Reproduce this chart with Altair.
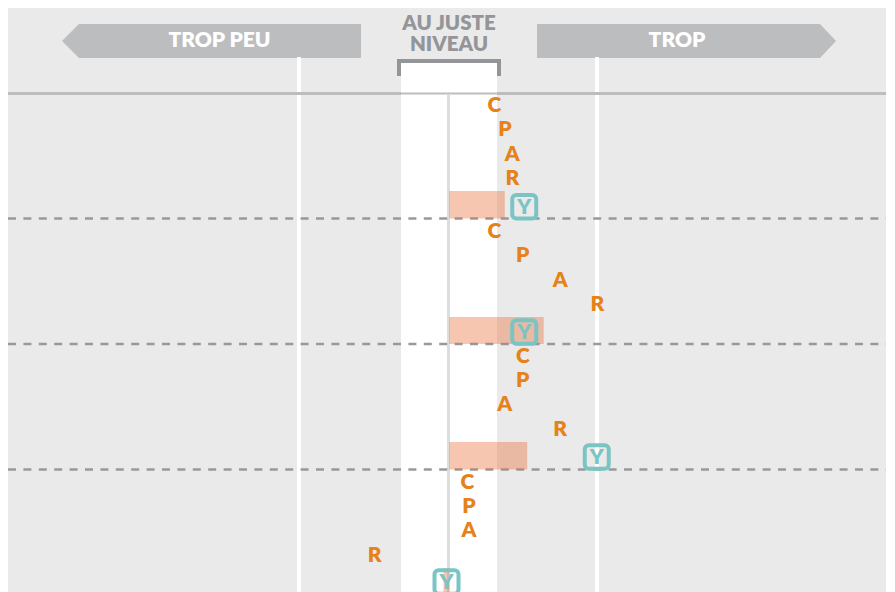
import altair as alt
import pandas as pd

letters = ["C", "P", "A", "R"] * 4
letter_vals = [0.31, 0.38, 0.43, 0.43,
               0.31, 0.50, 0.75, 1.00,
               0.50, 0.50, 0.38, 0.75,
               0.13, 0.14, 0.14, -0.49]
letter_rows = [0, 0.98, 1.98, 2.96,
               5.14, 6.12, 7.14, 8.12,
               10.24, 11.22, 12.2, 13.22,
               15.38, 16.36, 17.35, 18.37]
y_vals = [0.51, 0.51, 0.995, -0.01]
y_rows = [4.15, 9.27, 14.37, 19.47]
bar_vals = [0.38, 0.64, 0.53, -0.03]
bar_starts = [0.008, 0.008, 0.008, 0.008]
bar_tops = [3.51, 8.65, 13.76, 18.9]
bar_bots = [4.63, 9.76, 14.88, 20.5]
sep_rows = [4.63, 9.76, 14.88]


def X(px):
    return (px - 448) / 149.5


def Y(px):
    return (px - 105) / 24.5


W, H = 878, 590
xs = alt.Scale(domain=[X(8), X(8 + W)], range=[0, W], nice=False, zero=False)
ys = alt.Scale(domain=[Y(8), Y(8 + H)], range=[0, H], nice=False, zero=False)
xe = lambda f: alt.X(f, type="quantitative", scale=xs, axis=None, title=None)
ye = lambda f: alt.Y(f, type="quantitative", scale=ys, axis=None, title=None)

ARROW = "#BCBDBF"
GREY = "#939598"
ORANGE = "#E58219"
TEAL = "#7BC4C4"
FONT = "Lato"


def df(**k):
    return alt.Data(values=pd.DataFrame(k).to_dict("records"))


def rect(x0, x1, y0, y1, color, **kw):
    return alt.Chart(df(x=[X(x0)], x2=[X(x1)], y=[Y(y0)], y2=[Y(y1)])).mark_rect(color=color, **kw).encode(
        x=xe("x"), x2="x2", y=ye("y"), y2="y2")


def arrow(xs_px):
    tip, neck, end = xs_px
    return alt.Chart(df(x=[X(tip), X(neck), X(end)],
                        y=[Y(41), Y(24), Y(24)],
                        y2=[Y(41), Y(58), Y(58)])).mark_area(color=ARROW, opacity=1).encode(
        x=xe("x"), y=ye("y"), y2="y2")


def label(text, x, y, color, size=21):
    return alt.Chart(df(x=[X(x)], y=[Y(y)], t=[text])).mark_text(
        font=FONT, fontWeight=800, fontSize=size, color=color, baseline="middle", align="center").encode(
        x=xe("x"), y=ye("y"), text="t:N")


band = rect(401, 497, 63, 600, "white")
white1 = rect(297, 301, 57, 600, "white")
white2 = rect(595, 599, 57, 600, "white")
h1 = rect(8, 401, 92, 95, "#BCBDBF")
h2 = rect(401, 497, 92.5, 94.5, "#BCBDBF")
h3 = rect(497, 895, 92, 95, "#BCBDBF")
center = rect(447, 450, 94, 600, "#DCDDDE")

bracket = alt.Chart(df(x=[X(399), X(399), X(499), X(499)], y=[Y(76), Y(61), Y(61), Y(76)], o=[0, 1, 2, 3])).mark_line(
    color=GREY, strokeWidth=4, strokeCap="butt", strokeJoin="miter").encode(
    x=xe("x"), y=ye("y"), order="o:Q")

bars = alt.Chart(df(x=bar_starts, x2=bar_vals, y=bar_tops, y2=bar_bots)).mark_rect(
    color="#E8703A", opacity=0.4).encode(x=xe("x"), x2="x2", y=ye("y"), y2="y2")

dashes = alt.Chart(df(y=sep_rows)).mark_rule(color="#98999B", strokeWidth=2.5, strokeDash=[8, 7.4]).encode(
    x=alt.value(0), x2=alt.value(W), y=ye("y"))

letter_marks = alt.Chart(df(x=letter_vals, y=letter_rows, t=letters)).mark_text(
    font=FONT, fontWeight=800, fontSize=21, color=ORANGE, baseline="middle", align="center", dy=1).encode(
    x=xe("x"), y=ye("y"), text="t:N")

y_box = alt.Chart(df(x=y_vals, y=y_rows)).mark_rect(
    width=24, height=23.5, cornerRadius=4, fillOpacity=0, stroke=TEAL, strokeWidth=4).encode(x=xe("x"), y=ye("y"))
y_text = alt.Chart(df(x=y_vals, y=y_rows, t=["Y"] * 4)).mark_text(
    font=FONT, fontWeight=800, fontSize=21, color=TEAL, baseline="middle", align="center", dy=1).encode(
    x=xe("x"), y=ye("y"), text="t:N")

chart = alt.layer(
    band, arrow((62, 79, 361)), arrow((836, 820, 537)), white1, white2, h1, h2, h3, center, bracket,
    dashes, bars, letter_marks, y_box, y_text,
    label("TROP PEU", 219.5, 41, "white"), label("TROP", 677, 41, "white"),
    label("AU JUSTE", 449, 24, GREY, 20.5), label("NIVEAU", 449, 45, GREY, 20.5),
).properties(
    width=W, height=H, padding=0, background="white",
    autosize=alt.AutoSizeParams(type="none"),
).configure_view(strokeWidth=0, fill="#EAEAEA")

chart.save("out.html", embed_options={"renderer": "svg", "actions": False})
